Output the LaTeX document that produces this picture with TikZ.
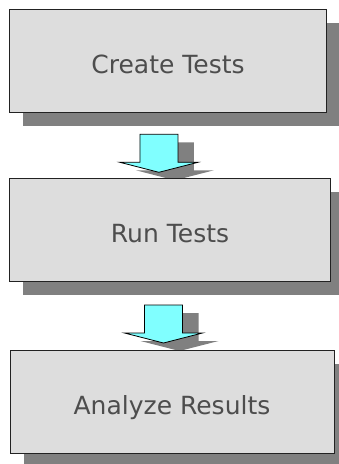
\documentclass[tikz,border=0pt]{standalone}
\usepackage{fontspec}
\setmainfont{DejaVu Sans}
\usetikzlibrary{shadows}
\definecolor{boxfill}{HTML}{DDDDDD}
\definecolor{shadowgray}{HTML}{808080}
\definecolor{arrowfill}{HTML}{80FFFF}
\definecolor{textgray}{HTML}{4D4D4D}
\definecolor{linegray}{HTML}{222222}
\begin{document}
\begin{tikzpicture}[x=1pt,y=-1pt,
  stepbox/.style={draw=linegray, line width=1pt, fill=boxfill, text=textgray,
    font=\fontsize{25}{30}\selectfont, inner sep=0pt, text height=26pt, text depth=0pt,
    drop shadow={shadow xshift=14pt, shadow yshift=-14pt, fill=shadowgray, opacity=1, draw=none}},
  arrowshape/.style={draw=black, line width=0.8pt, fill=arrowfill, line join=miter},
  arrowshadow/.style={fill=shadowgray, draw=none},
  pics/blockarrow/.style={code={
    \fill[arrowshadow] (-3,8) -- (35,8) -- (35,36) -- (55,36) -- (16,46) -- (-23,36) -- (-3,36) -- cycle;
    \filldraw[arrowshape] (-19,0) -- (19,0) -- (19,28) -- (39,28) -- (0,38) -- (-39,28) -- (-19,28) -- cycle;
  }}]
\useasboundingbox (0,0) rectangle (339,464);
\pic (arrowA) at (158.9,134.3) {blockarrow};
\pic (arrowB) at (163.5,305) {blockarrow};
\node[stepbox, minimum width=317.4pt, minimum height=102.7pt] (create) at (168,60.7) {Create Tests};
\node[stepbox, minimum width=321.4pt, minimum height=103pt] (run) at (170,229.5) {Run Tests};
\node[stepbox, minimum width=324pt, minimum height=103pt] (analyze) at (172,401.5) {Analyze Results};
\end{tikzpicture}
\end{document}
